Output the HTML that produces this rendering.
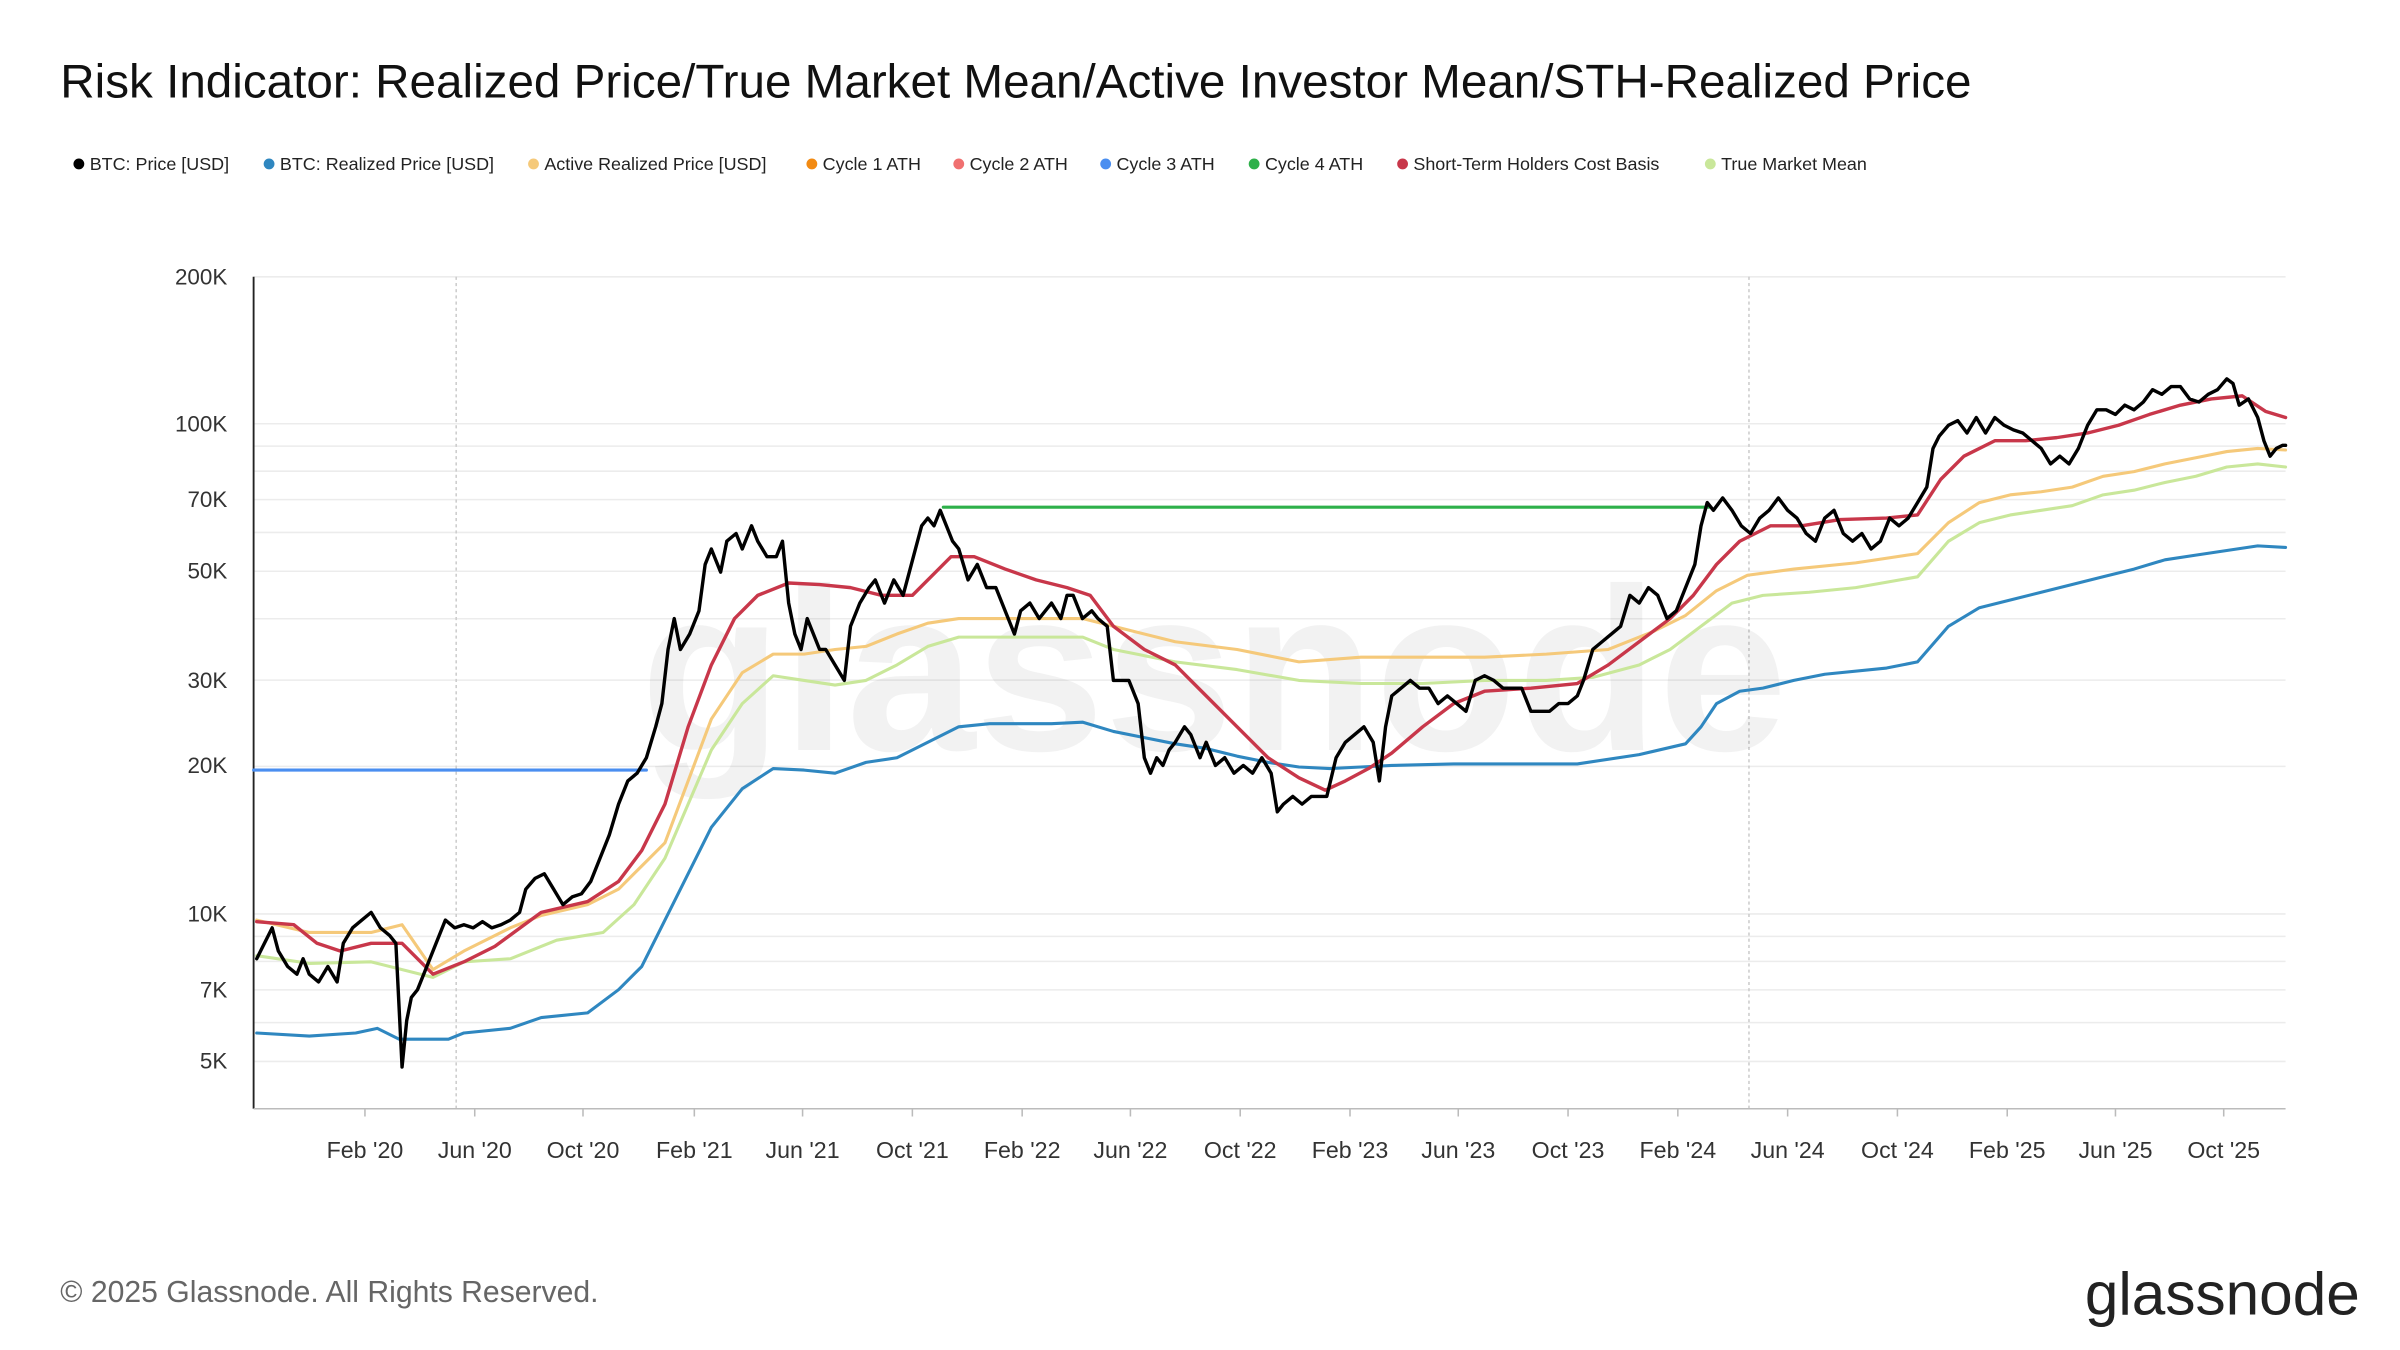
<!DOCTYPE html>
<html><head><meta charset="utf-8"><style>
html,body{margin:0;padding:0;background:#fff;}
svg{display:block;font-family:"Liberation Sans",Arial,sans-serif;}
</style></head><body>
<svg width="2400" height="1350" viewBox="0 0 1552 873" xmlns="http://www.w3.org/2000/svg">
<rect width="1552" height="873" fill="#fff"/>
<text x="39" y="63" font-size="30.8" fill="#111">Risk Indicator: Realized Price/True Market Mean/Active Investor Mean/STH-Realized Price</text>
<g font-size="11.6" fill="#222">
<circle cx="51" cy="106" r="3.5" fill="#000"/><text x="58" y="110">BTC: Price [USD]</text>
<circle cx="174" cy="106" r="3.5" fill="#2f87c0"/><text x="181" y="110">BTC: Realized Price [USD]</text>
<circle cx="345" cy="106" r="3.5" fill="#f5c97a"/><text x="352" y="110">Active Realized Price [USD]</text>
<circle cx="525" cy="106" r="3.5" fill="#f28a12"/><text x="532" y="110">Cycle 1 ATH</text>
<circle cx="620" cy="106" r="3.5" fill="#f07070"/><text x="627" y="110">Cycle 2 ATH</text>
<circle cx="715" cy="106" r="3.5" fill="#4a8ef0"/><text x="722" y="110">Cycle 3 ATH</text>
<circle cx="811" cy="106" r="3.5" fill="#2eb04a"/><text x="818" y="110">Cycle 4 ATH</text>
<circle cx="907" cy="106" r="3.5" fill="#c8374a"/><text x="914" y="110">Short-Term Holders Cost Basis</text>
<circle cx="1106" cy="106" r="3.5" fill="#c9e79a"/><text x="1113" y="110">True Market Mean</text>
</g>
<g stroke="#ececec" stroke-width="1">
<line x1="164" x2="1478" y1="179" y2="179"/><line x1="164" x2="1478" y1="274" y2="274"/>
<line x1="164" x2="1478" y1="288.5" y2="288.5"/><line x1="164" x2="1478" y1="304.7" y2="304.7"/>
<line x1="164" x2="1478" y1="323.1" y2="323.1"/><line x1="164" x2="1478" y1="344.3" y2="344.3"/>
<line x1="164" x2="1478" y1="369.4" y2="369.4"/><line x1="164" x2="1478" y1="400.1" y2="400.1"/>
<line x1="164" x2="1478" y1="439.8" y2="439.8"/><line x1="164" x2="1478" y1="495.6" y2="495.6"/>
<line x1="164" x2="1478" y1="591" y2="591"/><line x1="164" x2="1478" y1="605.5" y2="605.5"/>
<line x1="164" x2="1478" y1="621.7" y2="621.7"/><line x1="164" x2="1478" y1="640.1" y2="640.1"/>
<line x1="164" x2="1478" y1="661.3" y2="661.3"/><line x1="164" x2="1478" y1="686.4" y2="686.4"/>
</g>
<g stroke="#ccc" stroke-dasharray="2,2"><line x1="295" x2="295" y1="179" y2="717"/><line x1="1131" x2="1131" y1="179" y2="717"/></g>
<text x="785" y="485" font-size="150" fill="#000" fill-opacity="0.05" text-anchor="middle" font-weight="bold">glassnode</text>
<line x1="164" x2="164" y1="179" y2="717" stroke="#222" stroke-width="1.2"/>
<line x1="164" x2="1478" y1="717" y2="717" stroke="#bbb"/>
<g font-size="14.5" fill="#333" text-anchor="end">
<text x="147" y="184">200K</text><text x="147" y="279">100K</text><text x="147" y="328">70K</text><text x="147" y="374">50K</text><text x="147" y="445">30K</text><text x="147" y="500">20K</text><text x="147" y="596">10K</text><text x="147" y="645">7K</text><text x="147" y="691">5K</text>
</g>
<g font-size="15" fill="#333" text-anchor="middle">
<text x="236" y="749">Feb '20</text><text x="307" y="749">Jun '20</text><text x="377" y="749">Oct '20</text><text x="449" y="749">Feb '21</text><text x="519" y="749">Jun '21</text><text x="590" y="749">Oct '21</text><text x="661" y="749">Feb '22</text><text x="731" y="749">Jun '22</text><text x="802" y="749">Oct '22</text><text x="873" y="749">Feb '23</text><text x="943" y="749">Jun '23</text><text x="1014" y="749">Oct '23</text><text x="1085" y="749">Feb '24</text><text x="1156" y="749">Jun '24</text><text x="1227" y="749">Oct '24</text><text x="1298" y="749">Feb '25</text><text x="1368" y="749">Jun '25</text><text x="1438" y="749">Oct '25</text>
</g>
<g stroke="#bbb"><line x1="236" x2="236" y1="717" y2="722"/><line x1="307" x2="307" y1="717" y2="722"/><line x1="377" x2="377" y1="717" y2="722"/><line x1="449" x2="449" y1="717" y2="722"/><line x1="519" x2="519" y1="717" y2="722"/><line x1="590" x2="590" y1="717" y2="722"/><line x1="661" x2="661" y1="717" y2="722"/><line x1="731" x2="731" y1="717" y2="722"/><line x1="802" x2="802" y1="717" y2="722"/><line x1="873" x2="873" y1="717" y2="722"/><line x1="943" x2="943" y1="717" y2="722"/><line x1="1014" x2="1014" y1="717" y2="722"/><line x1="1085" x2="1085" y1="717" y2="722"/><line x1="1156" x2="1156" y1="717" y2="722"/><line x1="1227" x2="1227" y1="717" y2="722"/><line x1="1298" x2="1298" y1="717" y2="722"/><line x1="1368" x2="1368" y1="717" y2="722"/><line x1="1438" x2="1438" y1="717" y2="722"/></g>
<g fill="none" stroke-linejoin="round" stroke-linecap="round">
<polyline stroke="#c9e79a" stroke-width="2" points="166,618 200,623 240,622 280,632 300,622 330,620 360,608 390,603 410,585 430,555 445,520 460,485 480,455 500,437 520,440 540,443 560,440 580,430 600,418 620,412 660,412 700,412 720,420 760,428 800,433 840,440 880,442 920,442 960,440 1000,440 1030,438 1060,430 1080,420 1100,405 1120,390 1140,385 1170,383 1200,380 1240,373 1260,350 1280,338 1300,333 1320,330 1340,327 1360,320 1380,317 1400,312 1420,308 1440,302 1460,300 1478,302"/>
<polyline stroke="#f5c97a" stroke-width="2" points="166,595 200,603 240,603 260,598 280,627 300,615 330,600 350,592 380,585 400,575 415,560 430,545 445,505 460,465 480,435 500,423 520,423 540,420 560,418 580,410 600,403 620,400 660,400 700,400 720,405 760,415 800,420 840,428 880,425 920,425 960,425 1000,423 1040,420 1070,408 1090,398 1110,382 1130,372 1160,368 1200,364 1240,358 1260,338 1280,325 1300,320 1320,318 1340,315 1360,308 1380,305 1400,300 1420,296 1440,292 1460,290 1478,291"/>
<polyline stroke="#2f87c0" stroke-width="2" points="166,668 200,670 230,668 244,665 258,672 290,672 300,668 330,665 350,658 380,655 400,640 415,625 425,605 440,575 460,535 480,510 500,497 520,498 540,500 560,493 580,490 600,480 620,470 640,468 680,468 700,467 720,473 740,477 760,481 780,484 800,489 820,493 840,496 860,497 880,496 900,495 940,494 980,494 1020,494 1060,488 1090,481 1100,470 1110,455 1125,447 1140,445 1160,440 1180,436 1220,432 1240,428 1260,405 1280,393 1300,388 1320,383 1340,378 1360,373 1380,368 1400,362 1420,359 1440,356 1460,353 1478,354"/>
<polyline stroke="#c8374a" stroke-width="2.2" points="166,596 190,598 205,610 220,615 240,610 260,610 280,630 300,622 320,612 350,590 380,583 400,570 415,550 430,520 445,470 460,430 475,400 490,385 510,377 530,378 550,380 570,385 590,385 605,370 615,360 630,360 650,368 670,375 690,380 705,385 720,405 740,420 760,430 780,450 800,470 820,490 840,503 857,511 870,505 885,497 900,487 920,470 940,455 960,447 990,445 1020,442 1040,430 1060,415 1080,400 1095,385 1110,365 1125,350 1145,340 1165,340 1190,336 1220,335 1240,333 1255,310 1270,295 1290,285 1310,285 1330,283 1350,280 1370,275 1390,268 1410,262 1430,258 1450,256 1465,266 1478,270"/>
<line x1="164" x2="418" y1="498" y2="498" stroke="#4a8ef0" stroke-width="2"/>
<line x1="610" x2="1105" y1="328" y2="328" stroke="#2eb04a" stroke-width="2"/>
<polyline stroke="#000" stroke-width="2.2" points="166,620 170,612 176,600 180,615 186,625 192,630 196,620 200,630 206,635 212,625 218,635 222,610 228,600 234,595 240,590 246,600 252,605 256,610 258,650 260,690 263,660 266,645 270,640 276,625 282,610 288,595 294,600 300,598 306,600 312,596 318,600 324,598 330,595 336,590 340,575 346,568 352,565 358,575 364,585 370,580 376,578 382,570 388,555 394,540 400,520 406,505 412,500 418,490 424,470 428,455 432,420 436,400 440,420 446,410 452,395 456,365 460,355 466,370 470,350 476,345 480,355 486,340 490,350 496,360 502,360 506,350 510,390 514,410 518,420 522,400 526,410 530,420 534,420 540,430 546,440 550,405 556,390 562,380 566,375 572,390 578,375 584,385 588,370 592,355 596,340 600,335 604,340 608,330 612,340 616,350 620,355 626,375 632,365 638,380 644,380 650,395 656,410 660,395 666,390 672,400 676,395 680,390 686,400 690,385 694,385 700,400 706,395 710,400 716,405 720,440 724,440 730,440 736,455 740,490 744,500 748,490 752,495 756,485 760,480 766,470 770,475 776,490 780,480 786,495 792,490 798,500 804,495 810,500 816,490 822,500 826,525 830,520 836,515 842,520 848,515 854,515 858,515 864,490 870,480 876,475 882,470 888,480 892,505 896,470 900,450 906,445 912,440 918,445 924,445 930,455 936,450 942,455 948,460 954,440 960,437 966,440 972,445 978,445 984,445 990,460 996,460 1002,460 1008,455 1014,455 1020,450 1024,440 1030,420 1036,415 1042,410 1048,405 1054,385 1060,390 1066,380 1072,385 1078,400 1084,395 1090,380 1096,365 1100,340 1104,325 1108,330 1114,322 1120,330 1126,340 1132,345 1138,335 1144,330 1150,322 1156,330 1162,335 1168,345 1174,350 1180,335 1186,330 1192,345 1198,350 1204,345 1210,355 1216,350 1222,335 1228,340 1234,335 1240,325 1246,315 1250,290 1254,282 1260,275 1266,272 1272,280 1278,270 1284,280 1290,270 1296,275 1302,278 1308,280 1314,285 1320,290 1326,300 1332,295 1338,300 1344,290 1350,275 1356,265 1362,265 1368,268 1374,262 1380,265 1386,260 1392,252 1398,255 1404,250 1410,250 1416,258 1422,260 1428,255 1434,252 1440,245 1444,248 1448,262 1454,258 1460,270 1464,285 1468,295 1472,290 1476,288 1478,288"/>
</g>
<text x="39" y="842" font-size="19.5" fill="#666">© 2025 Glassnode. All Rights Reserved.</text>
<text x="1526" y="850" font-size="39" fill="#222" text-anchor="end">glassnode</text>
</svg>
</body></html>
